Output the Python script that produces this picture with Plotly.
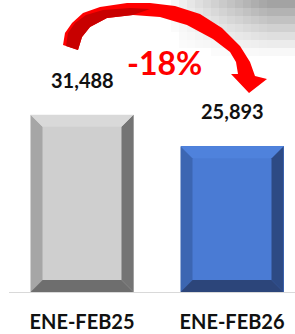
import plotly.graph_objects as go

# ---- data ----
categories = ["ENE-FEB25", "ENE-FEB26"]
values = [31488, 25893]

# ---- styling ----
W, H = 295, 334
face_colors = ["#cfcfcf", "#4a7bd4"]
top_colors = ["#d9d9d9", "#4f82dc"]
left_colors = ["#a6a6a6", "#3c66b2"]
right_colors = ["#747474", "#2d4a84"]
bottom_colors = ["#6e6e6e", "#2c457a"]

FONT = "Lato"
base_px = 292          # baseline pixel row
x_dom = (9, 295)       # x domain in pixels
px_per_unit_x = 150.0
units_per_px_y = 177.6
x_range = [0 - (82 - x_dom[0]) / px_per_unit_x, 1 + (x_dom[1] - 232) / px_per_unit_x]
y_max = base_px * units_per_px_y
bar_w = 103 / px_per_unit_x
bev_x = 12 / px_per_unit_x
bev_y = 12 * units_per_px_y

def P(x, y):
    return x / W, 1 - y / H

fig = go.Figure()
xs = list(range(len(categories)))
fig.add_trace(go.Bar(x=xs, y=values, width=bar_w, marker=dict(color=face_colors, line=dict(width=0)),
                     hoverinfo="skip", showlegend=False))

def poly(pts, color):
    fig.add_trace(go.Scatter(x=[p[0] for p in pts] + [pts[0][0]], y=[p[1] for p in pts] + [pts[0][1]],
                             fill="toself", fillcolor=color, mode="lines", line=dict(width=0, color=color),
                             hoverinfo="skip", showlegend=False))

h = bar_w / 2
for i, v in enumerate(values):
    x = xs[i]
    poly([(x - h, 0), (x - h, v), (x - h + bev_x, v - bev_y), (x - h + bev_x, bev_y)], left_colors[i])
    poly([(x + h, 0), (x + h, v), (x + h - bev_x, v - bev_y), (x + h - bev_x, bev_y)], right_colors[i])
    poly([(x - h, v), (x + h, v), (x + h - bev_x, v - bev_y), (x - h + bev_x, v - bev_y)], top_colors[i])
    poly([(x - h, 0), (x + h, 0), (x + h - bev_x, bev_y), (x - h + bev_x, bev_y)], bottom_colors[i])

shapes = []
# mosaic background decoration (top right)
cell = 8
for r in range(8):
    for c in range(18):
        x0 = 155 + c * cell
        y0 = r * cell
        fx = min(max((x0 - 165) / 100.0, 0), 1) ** 0.9
        fy = max(1 - (y0 + 4) / 58.0, 0) ** 1.2
        d = 100 * fx * fy
        if d < 3:
            continue
        g = int(255 - d)
        xa, ya = P(x0, y0)
        xb, yb = P(x0 + cell, y0 + cell)
        shapes.append(dict(type="rect", xref="paper", yref="paper", x0=xa, x1=xb, y0=yb, y1=ya,
                           fillcolor=f"rgb({g},{g},{g})", line=dict(width=0), layer="below"))

def path(pts):
    s = ""
    for k, (px, py) in enumerate(pts):
        a, b = P(px, py)
        s += ("M" if k == 0 else " L") + f" {a:.4f} {b:.4f}"
    return s + " Z"

outer = [(63, 45), (65, 33), (72, 23), (83, 13), (100, 7), (127, 3), (150, 3), (175, 6), (200, 14),
         (222, 28), (240, 46), (250, 62), (255, 76)]
head = [(267, 79), (249, 93), (231, 74)]
inner = [(238, 74), (236, 62), (230, 52), (213, 39), (187, 25), (160, 17), (133, 15), (107, 18),
         (90, 27), (82, 37), (78, 50)]
shapes.append(dict(type="path", xref="paper", yref="paper", path=path(outer + head + inner),
                   fillcolor="#ff0000", line=dict(width=0)))
dark = [(66, 46), (68, 33), (75, 23), (86, 15), (103, 10), (130, 8), (150, 9),
        (133, 15), (107, 18), (90, 27), (82, 37), (78, 50)]
shapes.append(dict(type="path", xref="paper", yref="paper", path=path(dark),
                   fillcolor="#c80000", line=dict(width=0)))

annotations = []
for i, v in enumerate(values):
    annotations.append(dict(x=xs[i], y=v, xref="x", yref="y", text=f"{v:,}", showarrow=False,
                            yanchor="bottom", yshift=21,
                            font=dict(family=FONT, size=20, color="#111111", weight="bold")))
pct = round((values[1] / values[0] - 1) * 100)
cx, cy = P(164, 62)
annotations.append(dict(x=cx, y=cy, xref="paper", yref="paper", text=f"{pct}%", showarrow=False,
                        xanchor="center", yanchor="middle",
                        font=dict(family=FONT, size=32, color="#ff0000", weight="bold")))

fig.update_layout(
    width=W, height=H, margin=dict(l=0, r=0, t=0, b=0, autoexpand=False),
    paper_bgcolor="white", plot_bgcolor="rgba(0,0,0,0)",
    xaxis=dict(domain=[x_dom[0] / W, x_dom[1] / W], range=x_range, tickvals=xs, ticktext=categories,
               showline=True, linecolor="#d9d9d9", linewidth=1, showgrid=False, zeroline=False,
               ticks="", ticklabelstandoff=12, fixedrange=True, automargin=False,
               tickfont=dict(family=FONT, size=20, color="#111111", weight="bold")),
    yaxis=dict(domain=[1 - base_px / H, 1], range=[0, y_max], visible=False, showgrid=False,
               zeroline=False, fixedrange=True, automargin=False),
    shapes=shapes, annotations=annotations, showlegend=False, bargap=0,
)
fig.write_html("out.html", config={"displayModeBar": False},
               post_script="document.body.style.margin='0';")
